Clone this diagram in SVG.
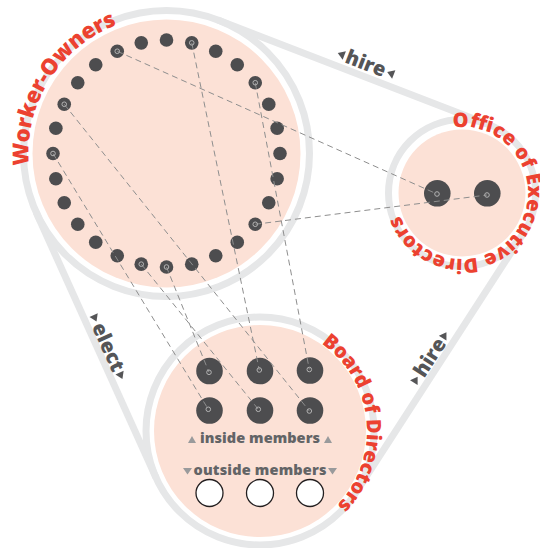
<svg xmlns="http://www.w3.org/2000/svg" width="540" height="548" viewBox="0 0 540 548">
<style>
.belt{fill:none;stroke:#e6e7e8;stroke-width:7}
.disc{fill:#fce1d6}
.dot{fill:#4d4d4f}
.conn{fill:none;stroke:#8e8e8e;stroke-width:1;stroke-dasharray:6 4}
.end{fill:none;stroke:#b3b3b3;stroke-width:1}
.lbl{font-family:"Open Sans","Liberation Sans",sans-serif;font-weight:800;fill:#ec4130}
.verb{font-family:"Open Sans","Liberation Sans",sans-serif;font-weight:800;font-size:20px;fill:#555557;text-anchor:middle}
.tri{fill:#555557}
.mem{font-family:"Open Sans","Liberation Sans",sans-serif;font-weight:800;font-size:14.5px;fill:#636466;text-anchor:middle}
.mtri{fill:#999a9c}
.open{fill:#fff;stroke:#231f20;stroke-width:1.3}
</style>
<defs>
<path id="arcW" d="M 29.03,165.53 A 138 138 0 0 1 142.54,17.6"/>
<path id="arcO" d="M 452.81,127.64 A 66 66 0 1 1 396.27,198.75"/>
<path id="arcB" d="M 321.37,343.35 A 107 107 0 0 1 328.78,512.97"/>
</defs>

<g id="belt">
<circle class="belt" cx="166.5" cy="153.5" r="143"/>
<circle class="belt" cx="462" cy="193" r="73.5"/>
<circle class="belt" cx="260" cy="431" r="114"/>
<line class="belt" x1="217.97" y1="20.08" x2="488.45" y2="124.43"/>
<line class="belt" x1="36.17" y1="212.34" x2="156.10" y2="477.91"/>
<line class="belt" x1="523.73" y1="232.90" x2="355.75" y2="492.88"/>
</g>

<g id="worker-owners">
<circle class="disc" cx="166.5" cy="153.5" r="134"/>
<g class="dot">
<circle cx="166.5" cy="40" r="6.8"/>
<circle cx="191.75" cy="42.85" r="6.8"/>
<circle cx="215.75" cy="51.24" r="6.8"/>
<circle cx="237.27" cy="64.77" r="6.8"/>
<circle cx="255.24" cy="82.73" r="6.8"/>
<circle cx="268.76" cy="104.25" r="6.8"/>
<circle cx="277.15" cy="128.25" r="6.8"/>
<circle cx="280" cy="153.5" r="6.8"/>
<circle cx="277.15" cy="178.75" r="6.8"/>
<circle cx="268.76" cy="202.75" r="6.8"/>
<circle cx="255.24" cy="224.27" r="6.8"/>
<circle cx="237.27" cy="242.24" r="6.8"/>
<circle cx="215.75" cy="255.76" r="6.8"/>
<circle cx="191.75" cy="264.15" r="6.8"/>
<circle cx="166.5" cy="267" r="6.8"/>
<circle cx="141.25" cy="264.15" r="6.8"/>
<circle cx="117.24" cy="255.76" r="6.8"/>
<circle cx="95.73" cy="242.24" r="6.8"/>
<circle cx="77.76" cy="224.27" r="6.8"/>
<circle cx="64.24" cy="202.75" r="6.8"/>
<circle cx="55.85" cy="178.75" r="6.8"/>
<circle cx="53" cy="153.5" r="6.8"/>
<circle cx="55.85" cy="128.25" r="6.8"/>
<circle cx="64.24" cy="104.25" r="6.8"/>
<circle cx="77.76" cy="82.73" r="6.8"/>
<circle cx="95.73" cy="64.77" r="6.8"/>
<circle cx="117.24" cy="51.24" r="6.8"/>
<circle cx="141.25" cy="42.85" r="6.8"/>
</g>
<text class="lbl" font-size="22"><textPath href="#arcW" textLength="178" lengthAdjust="spacing">Worker-Owners</textPath></text>
</g>

<g id="office">
<circle class="disc" cx="462" cy="193" r="63.5"/>
<circle class="dot" cx="437.3" cy="193.3" r="13.3"/>
<circle class="dot" cx="487.3" cy="193.3" r="13.3"/>
<text class="lbl" font-size="20"><textPath href="#arcO" textLength="297" lengthAdjust="spacing">Office of Executive Directors</textPath></text>
</g>

<g id="board">
<circle class="disc" cx="260" cy="431" r="106"/>
<circle class="dot" cx="209.5" cy="371" r="13.3"/>
<circle class="dot" cx="260" cy="371" r="13.3"/>
<circle class="dot" cx="310" cy="370.5" r="13.3"/>
<circle class="dot" cx="209.5" cy="410.5" r="13.3"/>
<circle class="dot" cx="260" cy="410.5" r="13.3"/>
<circle class="dot" cx="310" cy="410.5" r="13.3"/>
<polygon class="mtri" points="188,443 196,443 192,436"/>
<text class="mem" x="260" y="442.7" textLength="120" lengthAdjust="spacing">inside members</text>
<polygon class="mtri" points="324,443 332,443 328,436"/>
<polygon class="mtri" points="183,468 192,468 187.5,474.5"/>
<text class="mem" x="260" y="475" textLength="133" lengthAdjust="spacing">outside members</text>
<polygon class="mtri" points="328,468 337,468 332.5,474.5"/>
<circle class="open" cx="209.5" cy="493" r="13.5"/>
<circle class="open" cx="260" cy="493" r="13.5"/>
<circle class="open" cx="310" cy="493" r="13.5"/>
<text class="lbl" font-size="20"><textPath href="#arcB" textLength="185" lengthAdjust="spacing">Board of Directors</textPath></text>
</g>

<g id="connectors">
<line class="conn" x1="117.24" y1="51.24" x2="437" y2="194"/>
<line class="conn" x1="191.75" y1="42.85" x2="259.3" y2="370"/>
<line class="conn" x1="255.24" y1="82.73" x2="309.3" y2="369.5"/>
<line class="conn" x1="64.24" y1="104.25" x2="309.3" y2="411"/>
<line class="conn" x1="53" y1="153.5" x2="208.3" y2="409.3"/>
<line class="conn" x1="141.25" y1="264.15" x2="258.3" y2="409.3"/>
<line class="conn" x1="166.5" y1="267" x2="209" y2="372.3"/>
<line class="conn" x1="255.24" y1="224.27" x2="487" y2="195"/>
<g class="end">
<circle cx="117.24" cy="51.24" r="2.3"/><circle cx="437" cy="194" r="2.3"/>
<circle cx="191.75" cy="42.85" r="2.3"/><circle cx="259.3" cy="370" r="2.3"/>
<circle cx="255.24" cy="82.73" r="2.3"/><circle cx="309.3" cy="369.5" r="2.3"/>
<circle cx="64.24" cy="104.25" r="2.3"/><circle cx="309.3" cy="411" r="2.3"/>
<circle cx="53" cy="153.5" r="2.3"/><circle cx="208.3" cy="409.3" r="2.3"/>
<circle cx="141.25" cy="264.15" r="2.3"/><circle cx="258.3" cy="409.3" r="2.3"/>
<circle cx="166.5" cy="267" r="2.3"/><circle cx="209" cy="372.3" r="2.3"/>
<circle cx="255.24" cy="224.27" r="2.3"/><circle cx="487" cy="195" r="2.3"/>
</g>
</g>

<g id="label-hire-top" transform="translate(363.4,69.8) rotate(21.1)">
<polygon class="tri" points="-30,-6.5 -23,-11 -23,-2"/>
<text class="verb" x="0" y="0">hire</text>
<polygon class="tri" points="23,-6.5 30,-11 30,-2"/>
</g>
<g id="label-elect" transform="translate(102.1,349.8) rotate(65.7)">
<polygon class="tri" points="-35,-11 -35,-2 -28,-6.5"/>
<text class="verb" x="0" y="0">elect</text>
<polygon class="tri" points="28,-11 28,-2 35,-6.5"/>
</g>
<g id="label-hire-right" transform="translate(435.6,361) rotate(-57.1)">
<polygon class="tri" points="-30,-11 -30,-2 -23,-6.5"/>
<text class="verb" x="0" y="0">hire</text>
<polygon class="tri" points="23,-11 23,-2 30,-6.5"/>
</g>
</svg>
